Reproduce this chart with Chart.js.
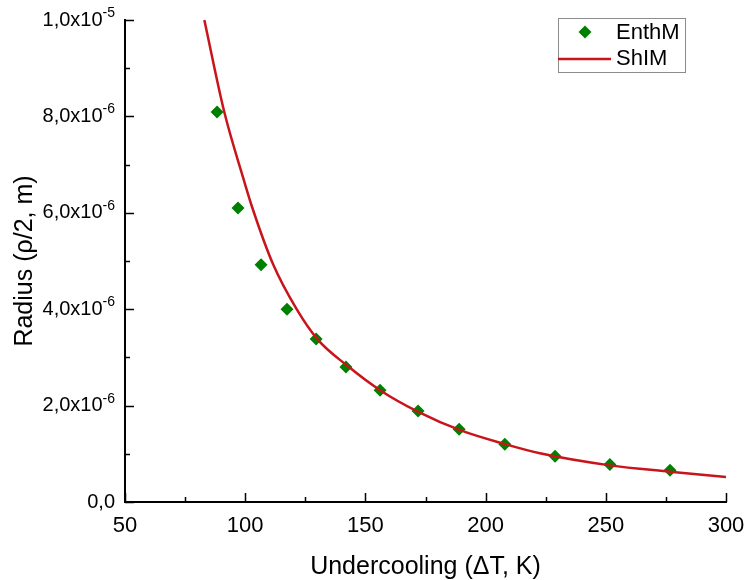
<!DOCTYPE html>
<html>
<head>
<meta charset="utf-8">
<script src="https://cdn.jsdelivr.net/npm/chart.js@4.4.0/dist/chart.umd.min.js"></script>
<style>
  html, body { margin: 0; padding: 0; background: #fff; }
</style>
</head>
<body>
<canvas id="chart" width="747" height="580"></canvas>
<script>
// EnthM points (undercooling in K, radius in m)
var enthX = [88.3, 97.0, 106.6, 117.4, 129.5, 141.9, 156.1, 171.9, 189.0, 208.0, 228.9, 251.7, 276.7];
var enthY = [8.09e-6, 6.10e-6, 4.92e-6, 4.00e-6, 3.38e-6, 2.80e-6, 2.32e-6, 1.89e-6, 1.51e-6, 1.20e-6, 0.95e-6, 0.78e-6, 0.66e-6];

// ShIM curve
var shimX = [83.0, 91.3, 99.2, 103.0, 111.7, 121.4, 130.0, 142.9, 156.1, 172.0, 189.4, 208.1, 222.6, 251.7, 276.7, 300.0];
var shimY = [10.0e-6, 8.09e-6, 6.72e-6, 6.10e-6, 4.92e-6, 4.00e-6, 3.38e-6, 2.81e-6, 2.32e-6, 1.87e-6, 1.49e-6, 1.20e-6, 1.01e-6, 0.76e-6, 0.63e-6, 0.52e-6];

// axis ticks
var xMajorTicks = [50, 100, 150, 200, 250, 300];
var xMinorTicks = [75, 125, 175, 225, 275];
var yMajorTicks = [0, 2e-6, 4e-6, 6e-6, 8e-6, 1e-5];
var yMinorTicks = [1e-6, 3e-6, 5e-6, 7e-6, 9e-6];
var yTickBase = ["0,0", "2,0x10", "4,0x10", "6,0x10", "8,0x10", "1,0x10"];
var yTickExp = ["", "-6", "-6", "-6", "-6", "-5"];

var seriesNames = ["EnthM", "ShIM"];
var green = "#008000";
var red = "#c8141a";
var fontFamily = "'Liberation Sans', Arial, sans-serif";

function toPoints(xs, ys) {
  return xs.map(function (x, i) { return { x: x, y: ys[i] }; });
}

// ticks pointing into the plot area + y labels with superscript exponents
var axisDecor = {
  id: "axisDecor",
  afterDatasetsDraw: function (chart) {
    var ctx = chart.ctx;
    var xs = chart.scales.x;
    var ys = chart.scales.y;
    var area = chart.chartArea;
    ctx.save();
    ctx.strokeStyle = "#000";
    ctx.lineWidth = 1.5;
    ctx.beginPath();
    xMajorTicks.forEach(function (v) {
      var px = Math.round(xs.getPixelForValue(v)) + 0.5;
      ctx.moveTo(px, area.bottom);
      ctx.lineTo(px, area.bottom - 9);
    });
    xMinorTicks.forEach(function (v) {
      var px = Math.round(xs.getPixelForValue(v)) + 0.5;
      ctx.moveTo(px, area.bottom);
      ctx.lineTo(px, area.bottom - 5);
    });
    yMajorTicks.forEach(function (v) {
      var py = Math.round(ys.getPixelForValue(v)) + 0.5;
      ctx.moveTo(area.left, py);
      ctx.lineTo(area.left + 9, py);
    });
    yMinorTicks.forEach(function (v) {
      var py = Math.round(ys.getPixelForValue(v)) + 0.5;
      ctx.moveTo(area.left, py);
      ctx.lineTo(area.left + 5, py);
    });
    ctx.stroke();

    // y tick labels
    ctx.fillStyle = "#000";
    ctx.textAlign = "right";
    var right = area.left - 10;
    yMajorTicks.forEach(function (v, i) {
      var py = ys.getPixelForValue(v);
      var supW = 0;
      if (yTickExp[i]) {
        ctx.font = "14px " + fontFamily;
        supW = ctx.measureText(yTickExp[i]).width;
        ctx.textBaseline = "alphabetic";
        ctx.fillText(yTickExp[i], right, py - 3);
      }
      ctx.font = "20px " + fontFamily;
      ctx.textBaseline = "middle";
      ctx.fillText(yTickBase[i], right - supW, py);
    });
    ctx.restore();
  }
};

// boxed legend in the top right corner
var boxLegend = {
  id: "boxLegend",
  afterDraw: function (chart) {
    var ctx = chart.ctx;
    var area = chart.chartArea;
    var left = area.right - 168, top = area.top - 2, w = 127, h = 54;
    ctx.save();
    ctx.strokeStyle = "#8c8c8c";
    ctx.lineWidth = 1;
    ctx.strokeRect(left + 0.5, top + 0.5, w, h);

    // diamond
    var cx = left + 27, cy = top + 14, r = 6.5;
    ctx.fillStyle = green;
    ctx.beginPath();
    ctx.moveTo(cx, cy - r);
    ctx.lineTo(cx + r, cy);
    ctx.lineTo(cx, cy + r);
    ctx.lineTo(cx - r, cy);
    ctx.closePath();
    ctx.fill();

    // line
    ctx.strokeStyle = red;
    ctx.lineWidth = 2.5;
    ctx.beginPath();
    ctx.moveTo(left, top + 41);
    ctx.lineTo(left + 53, top + 41);
    ctx.stroke();

    ctx.fillStyle = "#000";
    ctx.font = "22px " + fontFamily;
    ctx.textBaseline = "middle";
    ctx.textAlign = "left";
    ctx.fillText(seriesNames[0], left + 58, top + 15);
    ctx.fillText(seriesNames[1], left + 58, top + 41);
    ctx.restore();
  }
};

var ctx = document.getElementById("chart").getContext("2d");

new Chart(ctx, {
  type: "scatter",
  data: {
    datasets: [
      {
        label: seriesNames[1],
        type: "line",
        data: toPoints(shimX, shimY),
        borderColor: red,
        borderWidth: 2.5,
        pointRadius: 0,
        fill: false,
        cubicInterpolationMode: "monotone",
        order: 0
      },
      {
        label: seriesNames[0],
        data: toPoints(enthX, enthY),
        pointStyle: "rectRot",
        pointRadius: 6.5,
        pointBackgroundColor: green,
        pointBorderColor: green,
        pointBorderWidth: 0,
        order: 1
      }
    ]
  },
  options: {
    responsive: false,
    animation: false,
    layout: {
      padding: { top: 20, right: 21, left: 0, bottom: 0 }
    },
    plugins: {
      legend: { display: false },
      tooltip: { enabled: false }
    },
    scales: {
      x: {
        type: "linear",
        min: 50,
        max: 300,
        afterBuildTicks: function (scale) {
          scale.ticks = xMajorTicks.map(function (v) { return { value: v }; });
        },
        afterFit: function (scale) {
          scale.height = 78;
          scale.paddingLeft = 0;
          scale.paddingRight = 0;
        },
        grid: { display: false },
        border: { display: true, color: "#000", width: 2 },
        ticks: {
          color: "#000",
          padding: 3,
          font: { family: fontFamily, size: 22 }
        },
        title: {
          display: true,
          text: "Undercooling (\u0394T, K)",
          color: "#000",
          font: { family: fontFamily, size: 25 },
          padding: { top: 0, bottom: -2 }
        }
      },
      y: {
        type: "linear",
        min: 0,
        max: 1e-5,
        afterBuildTicks: function (scale) {
          scale.ticks = yMajorTicks.map(function (v) { return { value: v }; });
        },
        afterFit: function (scale) {
          scale.width = 125;
          scale.paddingTop = 0;
          scale.paddingBottom = 0;
        },
        grid: { display: false },
        border: { display: true, color: "#000", width: 2 },
        ticks: { display: false },
        title: {
          display: true,
          text: "Radius (\u03C1/2, m)",
          color: "#000",
          font: { family: fontFamily, size: 25 },
          padding: { top: 10, bottom: 0 }
        }
      }
    }
  },
  plugins: [axisDecor, boxLegend]
});
</script>
</body>
</html>
